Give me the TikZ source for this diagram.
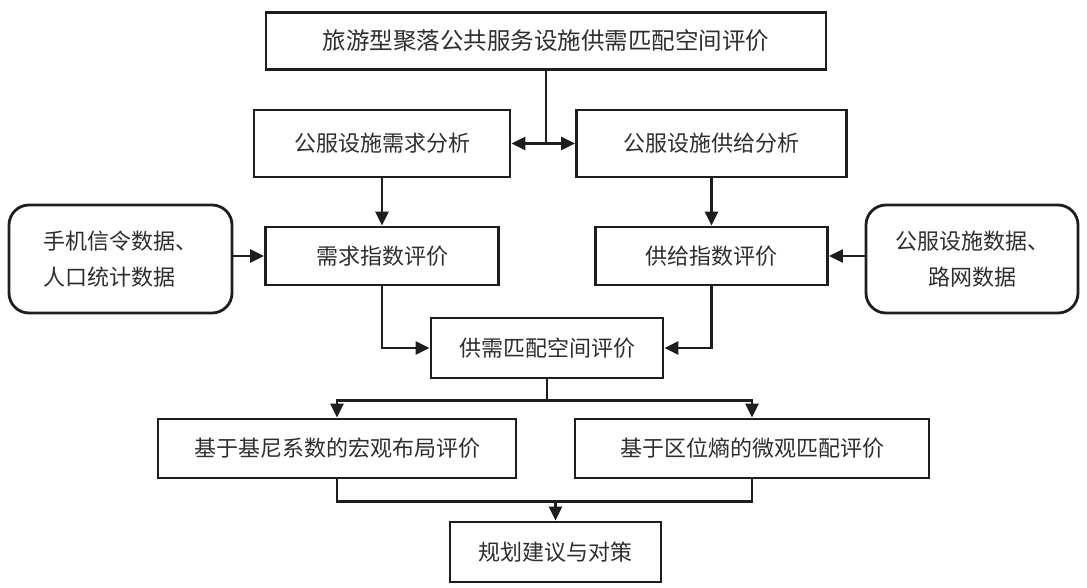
\documentclass[tikz,border=0pt]{standalone}
\usepackage{fontspec}
\newfontfamily\cjk{Noto Sans CJK SC}
\usetikzlibrary{arrows.meta,calc}
\definecolor{lineC}{HTML}{1E1E1E}
\definecolor{textC}{HTML}{2E2E2E}
\tikzset{
  box/.style={draw=lineC, line width=2.8pt, rectangle, inner sep=0pt, text=textC,
    font=\cjk\fontsize{22}{27}\selectfont},
  bigbox/.style={box, font=\cjk\fontsize{23.5}{28}\selectfont},
  rbox/.style={box, rounded corners=20pt, align=center},
  conn/.style={draw=lineC, line width=2.8pt},
  arr/.style={conn, -{Triangle[length=14pt,width=13pt]}},
}
\begin{document}
\begin{tikzpicture}[x=1pt,y=-1pt]
\useasboundingbox (0,0) rectangle (1087,587);
\fill[white] (0,0) rectangle (1087,587);

\node[bigbox, minimum width=560, minimum height=57] (top) at (546,41) {旅游型聚落公共服务设施供需匹配空间评价};
\node[box, minimum width=256, minimum height=67] (dem) at (382,143.5) {公服设施需求分析};
\node[box, minimum width=270, minimum height=67] (sup) at (711.5,143.5) {公服设施供给分析};
\node[box, minimum width=233, minimum height=58] (didx) at (382,256) {需求指数评价};
\node[box, minimum width=232, minimum height=58] (sidx) at (711.5,256) {供给指数评价};
\node[rbox, minimum width=223, minimum height=108, align=left] (lsrc) at (120.5,259) {手机信令数据、\\[9pt]人口统计数据};
\node[rbox, minimum width=212, minimum height=108] (rsrc) at (972,259) {公服设施数据、\\[9pt]路网数据};
\node[box, minimum width=232, minimum height=60] (match) at (547,348) {供需匹配空间评价};
\node[box, minimum width=358, minimum height=59] (macro) at (337,448.5) {基于基尼系数的宏观布局评价};
\node[box, minimum width=354, minimum height=59] (micro) at (752,448.5) {基于区位熵的微观匹配评价};
\node[box, minimum width=211, minimum height=60] (final) at (555.5,552) {规划建议与对策};

% top to analysis boxes
\coordinate (j1) at (top.south |- dem.east);
\draw[conn] (top.south) -- (j1);
\draw[arr] (j1) -- (dem.east);
\draw[arr] (j1) -- (sup.west);

% analysis to index
\draw[arr] (dem.south) -- (didx.north);
\draw[arr] (sup.south) -- (sidx.north);

% data sources
\draw[arr] (lsrc.east |- didx.west) -- (didx.west);
\draw[arr] (rsrc.west |- sidx.east) -- (sidx.east);

% index to matching
\draw[arr] (didx.south) |- (match.west);
\draw[arr] (sidx.south) |- (match.east);

% matching to evaluations
\path (match.south) ++(0,21) coordinate (j2);
\draw[conn] (match.south) -- (j2);
\draw[arr] (j2) -| (macro.north);
\draw[arr] (j2) -| (micro.north);

% evaluations to final
\path (macro.south) ++(0,22) coordinate (j3a);
\coordinate (j3) at (final.north |- j3a);
\draw[conn] (macro.south) |- (j3a) -| (micro.south);
\draw[arr] (j3) -- (final.north);
\end{tikzpicture}
\end{document}
